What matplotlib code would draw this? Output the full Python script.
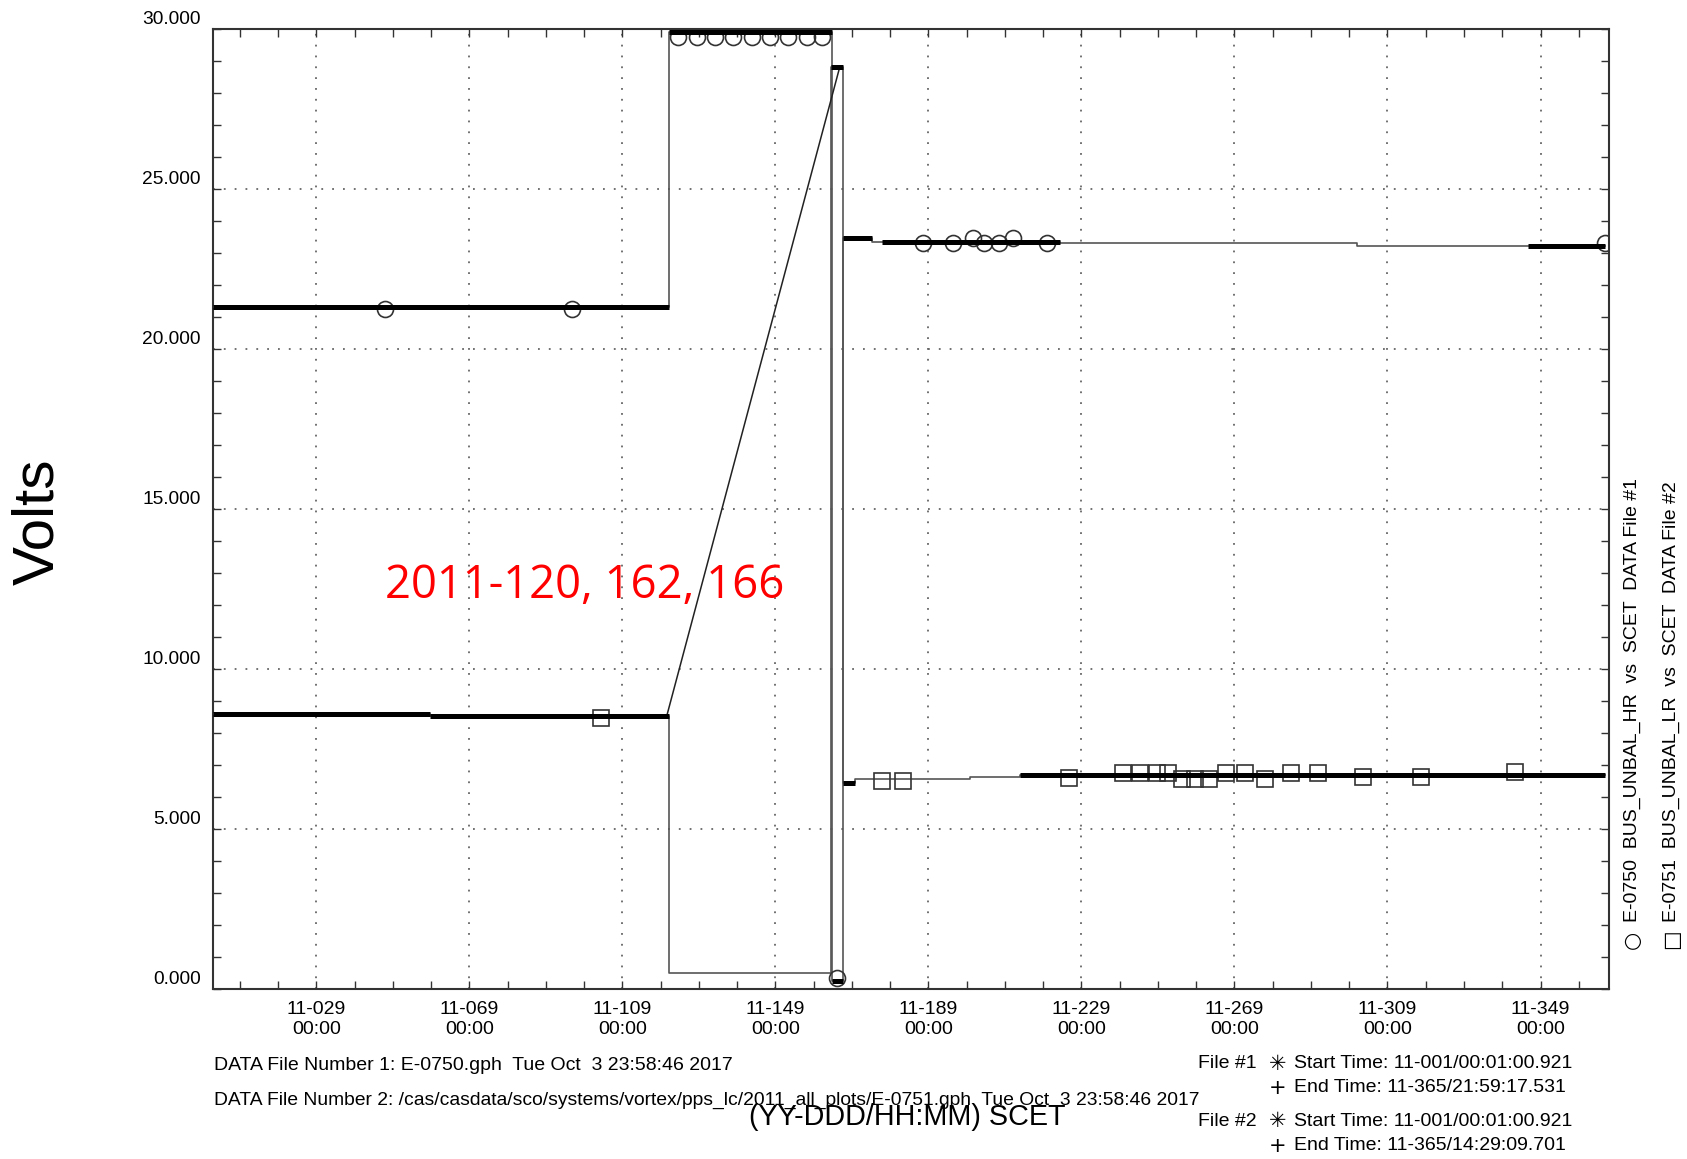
#!/usr/bin/env python3

import matplotlib.pyplot as plt
from matplotlib.transforms import ScaledTranslation

# x values: days since 11-001 00:00 SCET, y values: volts

# E-0750 BUS_UNBAL_HR (file #1, circles)
hr_x = [1.0, 120.2, 120.2, 162.8, 162.8, 165.6, 165.6, 173.3, 173.3, 222.5,
        222.5, 300.0, 300.0, 364.9]
hr_y = [21.3, 21.3, 29.9, 29.9, 0.25, 0.25, 23.48, 23.48, 23.35, 23.35,
        23.3, 23.3, 23.22, 23.22]

hr_dense_x0 = [1.0, 120.2, 162.8, 165.6, 175.9, 344.7]
hr_dense_x1 = [120.2, 162.8, 165.6, 173.3, 222.5, 364.9]
hr_dense_y  = [21.3, 29.9, 0.25, 23.48, 23.35, 23.22]

hr_mark_x = [46.0, 94.9, 122.6, 127.4, 132.2, 137.0, 141.8, 146.6, 151.4,
             156.2, 160.1, 164.1, 186.6, 194.5, 199.7, 202.6, 206.5, 210.2,
             219.1, 364.8]
hr_mark_y = [21.25, 21.25, 29.74, 29.74, 29.74, 29.74, 29.74, 29.74, 29.74,
             29.74, 29.74, 0.35, 23.3, 23.3, 23.47, 23.3, 23.3, 23.47,
             23.3, 23.3]

# E-0751 BUS_UNBAL_LR (file #2, squares)
lr_x = [1.0, 57.8, 57.8, 120.2, 120.2, 162.5, 162.5, 165.6, 165.6, 168.9,
        168.9, 199.0, 199.0, 212.0, 212.0, 364.9]
lr_y = [8.6, 8.6, 8.53, 8.53, 0.5, 0.5, 28.8, 28.8, 6.45, 6.45,
        6.55, 6.55, 6.63, 6.63, 6.7, 6.7]

lr_gap_x = [119.6, 164.8]
lr_gap_y = [8.53, 28.8]

lr_dense_x0 = [1.0, 57.8, 162.5, 165.6, 212.0]
lr_dense_x1 = [57.8, 120.2, 165.6, 168.9, 364.9]
lr_dense_y  = [8.6, 8.53, 28.8, 6.45, 6.7]

lr_mark_x = [102.4, 175.8, 181.4, 224.8, 238.8, 243.3, 247.7, 250.7, 254.2,
             257.7, 261.4, 265.8, 270.7, 276.0, 282.8, 289.8, 301.6, 316.7,
             341.3]
lr_mark_y = [8.48, 6.51, 6.51, 6.6, 6.74, 6.74, 6.74, 6.74, 6.56, 6.56,
             6.56, 6.74, 6.74, 6.56, 6.74, 6.74, 6.63, 6.63, 6.77]

x_major  = [28, 68, 108, 148, 188, 228, 268, 308, 348]
x_labels = ['11-029\n00:00', '11-069\n00:00', '11-109\n00:00',
            '11-149\n00:00', '11-189\n00:00', '11-229\n00:00',
            '11-269\n00:00', '11-309\n00:00', '11-349\n00:00']
y_major  = [0, 5, 10, 15, 20, 25, 30]

W, H = 1687, 1159
FONT = ['Liberation Sans', 'DejaVu Sans']
plt.rcParams['font.family'] = FONT


def px(x, y):
    return x / W, 1 - y / H


# ------------------------------------------------------------------------------
#
def main():

    fig = plt.figure(figsize=(W / 100, H / 100), dpi=100)
    ax  = fig.add_axes([213 / W, 1 - 989 / H, (1609 - 213) / W, (989 - 29) / H])

    # grid
    for xv in x_major:
        ax.axvline(xv, color='#666666', lw=1.3, ls=(0, (1, 5)), zorder=1)
    for yv in y_major[1:]:
        ax.axhline(yv, color='#666666', lw=1.3, ls=(0, (1, 5)), zorder=1)

    # thin connecting lines
    ax.plot(hr_x, hr_y, color='#555555', lw=1.2, zorder=3)
    ax.plot(lr_x, lr_y, color='#555555', lw=1.2, zorder=3)
    ax.plot(lr_gap_x, lr_gap_y, color='#222222', lw=1.1, zorder=3)

    ax.plot(hr_mark_x, hr_mark_y, ls='none', marker='o', ms=11.5, mfc='none',
            mec='#333333', mew=1.2, zorder=4)
    ax.plot(lr_mark_x, lr_mark_y, ls='none', marker='s', ms=11, mfc='none',
            mec='#333333', mew=1.2, zorder=4)

    # dense data stretches
    ax.hlines(hr_dense_y, hr_dense_x0, hr_dense_x1, color='black', lw=3.6,
              zorder=5)
    ax.hlines(lr_dense_y, lr_dense_x0, lr_dense_x1, color='black', lw=3.6,
              zorder=5)

    ax.set_xlim(1.0, 365.9)
    ax.set_ylim(0, 30)

    ax.set_xticks(x_major)
    ax.set_xticklabels(x_labels)
    ax.set_xticks(list(range(8, 366, 10)), minor=True)
    ax.set_yticks(y_major)
    ax.set_yticklabels(['%.3f' % v for v in y_major])
    ax.set_yticks(list(range(0, 31)), minor=True)

    ax.tick_params(which='both', direction='in', top=True, right=True,
                   length=6, width=1.0, color='#333333')
    ax.tick_params(axis='x', labelsize=14, pad=9)
    ax.tick_params(axis='y', labelsize=13.8, pad=9)

    off = ScaledTranslation(0, 12 / 100, fig.dpi_scale_trans)
    for lab in ax.get_yticklabels():
        lab.set_transform(lab.get_transform() + off)

    for sp in ax.spines.values():
        sp.set_linewidth(1.5)
        sp.set_color('#333333')

    fig.text(*px(38, 522), 'Volts', fontsize=42, rotation=90,
             ha='center', va='center')

    ax.text(46.0, 12.6, '2011-120, 162, 166', color='#ff0000',
            fontsize=32.8, family='Open Sans', ha='left', va='center',
            zorder=6)

    # footer
    fig.text(*px(214, 1066), 'DATA File Number 1: E-0750.gph  Tue Oct  3 '
             '23:58:46 2017', fontsize=14, va='center')
    fig.text(*px(214, 1100), 'DATA File Number 2: /cas/casdata/sco/systems/'
             'vortex/pps_lc/2011_all_plots/E-0751.gph  Tue Oct  3 23:58:46 '
             '2017', fontsize=13.9, va='center')
    fig.text(*px(907, 1117), '(YY-DDD/HH:MM) SCET', fontsize=20.7,
             ha='center', va='center')

    fig.text(*px(1257, 1064), 'File #1', fontsize=14, ha='right',
             va='center')
    fig.text(*px(1257, 1121), 'File #2', fontsize=14, ha='right',
             va='center')
    rows = [(1064, '\u2733', 'Start Time: 11-001/00:01:00.921'),
            (1088, '+', 'End Time: 11-365/21:59:17.531'),
            (1121, '\u2733', 'Start Time: 11-001/00:01:00.921'),
            (1146, '+', 'End Time: 11-365/14:29:09.701')]
    for y, sym, txt in rows:
        fig.text(*px(1278, y), sym, fontsize=15, ha='center', va='center',
                 family=['DejaVu Sans'])
        fig.text(*px(1294, y), txt, fontsize=14, va='center')

    # rotated legend on the right
    fig.text(*px(1632, 949), '\u25cb', fontsize=15, rotation=90,
             ha='center', va='bottom', family=['DejaVu Sans'])
    fig.text(*px(1632, 922), 'E-0750  BUS_UNBAL_HR  vs  SCET  DATA '
             'File #1', fontsize=14, rotation=90, ha='center', va='bottom')
    fig.text(*px(1671, 949), '\u25a1', fontsize=15, rotation=90,
             ha='center', va='bottom', family=['DejaVu Sans'])
    fig.text(*px(1671, 922), 'E-0751  BUS_UNBAL_LR  vs  SCET  DATA '
             'File #2', fontsize=14, rotation=90, ha='center', va='bottom')

    fig.savefig('out.png', dpi=100)


# ------------------------------------------------------------------------------
#
if __name__ == '__main__':

    main()


# ------------------------------------------------------------------------------
